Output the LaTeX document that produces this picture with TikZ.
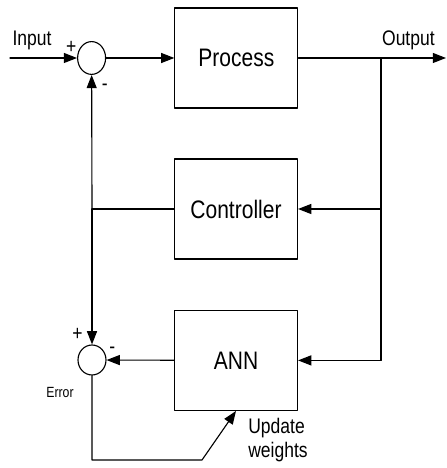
\documentclass[tikz,border=0pt]{standalone}
\usepackage{fontspec}
\setmainfont[FakeStretch=0.83]{Liberation Sans}
\usetikzlibrary{arrows.meta,shapes.geometric}

\begin{document}
\begin{tikzpicture}[line cap=round, line join=round, line width=0.8pt,
		>={Triangle[length=3.3mm,width=2.5mm]},
		block/.style={draw, minimum width=3.075cm, minimum height=2.5cm, font=\fontsize{18}{20}\selectfont},
		sum/.style={draw, ellipse, minimum width=0.7cm, inner sep=0pt},
		txt/.style={font=\fontsize{15}{17}\selectfont}]
			% Window bounds
			\useasboundingbox (0,0) rectangle (11.15,11.7);
			
			% Blocks
			\node[block] (process) at (5.91,10.25) {Process};
			\node[block] (controller) at (5.9,6.475) {Controller};
			\node[block] (ann) at (5.9,2.69) {ANN};
			
			% Summing junctions
			\node[sum, minimum height=0.82cm] (sumtop) at (2.29,10.25) {};
			\node[sum, minimum height=0.75cm] (sumbot) at (2.3,2.7) {};
			
			% Free ends and branch points
			\coordinate (in) at (0.25,10.25);
			\coordinate (out) at (11.15,10.25);
			\coordinate (branch) at (9.525,10.25);
			\coordinate (tap) at (2.3,6.475);
			\coordinate (corner) at (5.05,0.2);
			
			% Forward path
			\draw[->] (in) -- (sumtop);
			\draw[->] (sumtop) -- (process);
			\draw[->] (process) -- (out);
			
			% Output fed back to controller and ANN
			\draw (branch) -- (branch |- ann);
			\draw[->] (branch |- controller) -- (controller);
			\draw[->] (branch |- ann) -- (ann);
			
			% Controller output to both junctions
			\draw (controller) -- (tap);
			\draw[->] (tap) -- (sumtop);
			\draw[->] (tap) -- (sumbot);
			\draw[->] (ann) -- (sumbot);
			
			% Error used to update the weights
			\draw[->] (sumbot) |- (corner) -- (ann.south);
			
			% Signs
			\node[txt] at ([shift={(-0.51,0.275)}]sumtop) {+};
			\node[txt] at ([shift={(0.33,-0.725)}]sumtop) {-};
			\node[txt] at ([shift={(-0.36,0.64)}]sumbot) {+};
			\node[txt] at ([shift={(0.51,0.24)}]sumbot) {-};
			
			% Labels
			\node[txt] (lin) at (0.8,10.7) {Input};
			\node[txt] (lout) at (10.21,10.7) {Output};
			\node[font=\fontsize{10.5}{12}\selectfont] (lerr) at (1.5,1.9) {Error};
			\node[txt, align=left] (lupd) at (6.95,0.7) {Update\\weights};
		\end{tikzpicture}
\end{document}
